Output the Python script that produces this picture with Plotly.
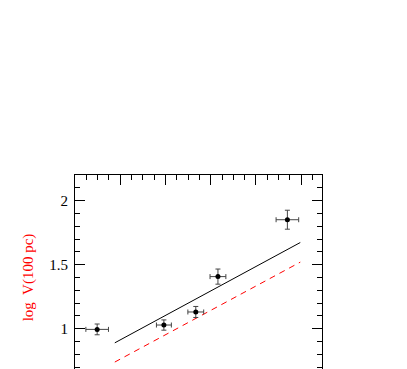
import plotly.graph_objects as go

# measured points
x_obs = [8.49, 9.965, 10.67, 11.16, 12.695]
x_err = [0.25, 0.165, 0.175, 0.175, 0.25]
logv_obs = [0.995, 1.029, 1.131, 1.407, 1.851]
logv_err = [0.042, 0.04, 0.043, 0.059, 0.074]

# model relations
x_model = [8.88, 12.98]
logv_model = [0.89, 1.673]
logv_model2 = [0.74, 1.52]

fig = go.Figure()

fig.add_trace(
    go.Scatter(
        x=x_model,
        y=logv_model,
        mode="lines",
        line=dict(color="black", width=1),
        showlegend=False,
    )
)
fig.add_trace(
    go.Scatter(
        x=x_model,
        y=logv_model2,
        mode="lines",
        line=dict(color="red", width=1, dash="6px,5px"),
        showlegend=False,
    )
)
fig.add_trace(
    go.Scatter(
        x=x_obs,
        y=logv_obs,
        mode="markers",
        marker=dict(color="black", size=5),
        error_x=dict(type="data", array=x_err, color="#444", thickness=1, width=2.5),
        error_y=dict(type="data", array=logv_err, color="#444", thickness=1, width=2.5),
        showlegend=False,
    )
)

axis_font = dict(family="Liberation Serif", size=15, color="black")

fig.update_xaxes(
    range=[8, 13.46],
    showgrid=False,
    zeroline=False,
    showline=True,
    linecolor="black",
    linewidth=1,
    mirror="allticks",
    ticks="inside",
    ticklen=10,
    tickcolor="black",
    dtick=1,
    tick0=8,
    minor=dict(dtick=0.25, ticks="inside", ticklen=5, tickcolor="black"),
    showticklabels=False,
)
fig.update_yaxes(
    range=[0.6, 2.2],
    showgrid=False,
    zeroline=False,
    showline=True,
    linecolor="black",
    linewidth=1,
    mirror="allticks",
    ticks="inside",
    ticklen=10,
    tickcolor="black",
    tickvals=[1, 1.5, 2],
    ticktext=["1", "1.5", "2"],
    minor=dict(dtick=0.1, tick0=0, ticks="inside", ticklen=5, tickcolor="black"),
    tickfont=axis_font,
    ticklabelstandoff=3,
    title=dict(
        text="log  V(100 pc)",
        font=dict(family="Liberation Serif", size=15, color="red"),
        standoff=12,
    ),
)

fig.update_layout(
    width=407,
    height=460,
    margin=dict(l=67, r=93, t=167, b=88),
    paper_bgcolor="white",
    plot_bgcolor="white",
)

fig.write_html("out.html")
